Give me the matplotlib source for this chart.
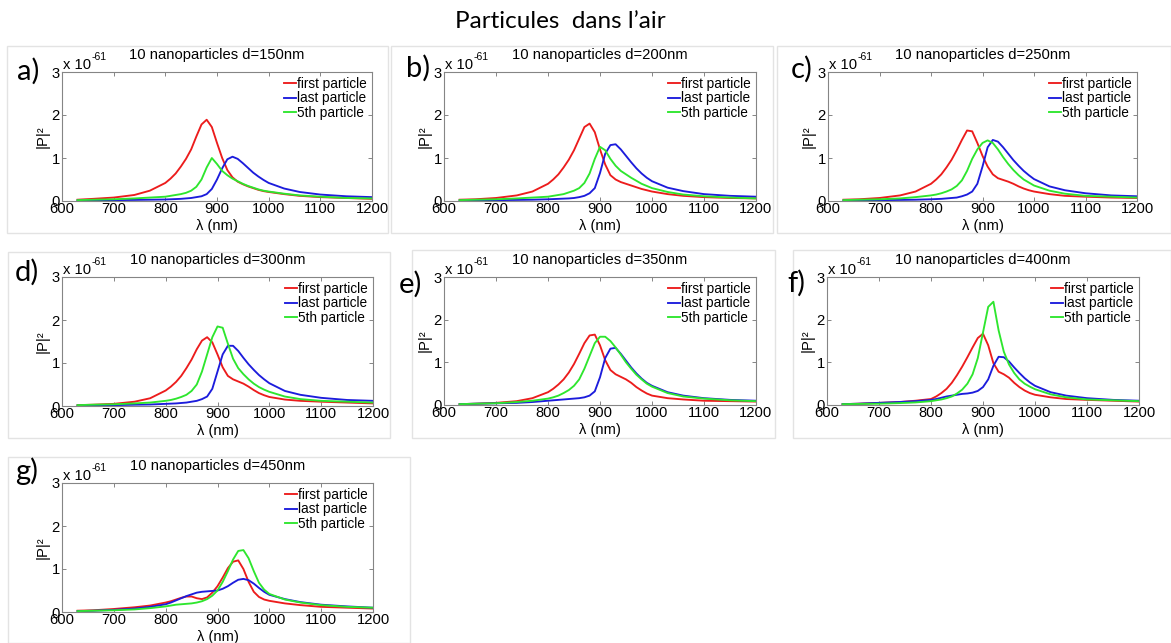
import matplotlib
matplotlib.use("Agg")
import matplotlib.pyplot as plt
from matplotlib.patches import Rectangle

# ---------------- data (|P|^2 in units of 1e-61) ----------------
wavelength = [630, 660, 700, 740, 770, 800, 810, 820, 830, 840, 850, 860, 870, 880, 890,
              900, 910, 920, 930, 940, 950, 960, 970, 980, 990, 1000, 1030, 1060, 1100, 1150, 1200]

first_150 = [0.03, 0.05, 0.08, 0.14, 0.24, 0.42, 0.52, 0.64, 0.80, 0.98, 1.20, 1.50, 1.78, 1.89, 1.72,
             1.35, 1.00, 0.72, 0.55, 0.45, 0.39, 0.34, 0.30, 0.26, 0.23, 0.21, 0.16, 0.12, 0.09, 0.07, 0.05]
last_150 = [0.01, 0.015, 0.02, 0.025, 0.03, 0.035, 0.04, 0.045, 0.05, 0.06, 0.07, 0.09, 0.11, 0.16, 0.28,
            0.50, 0.76, 0.97, 1.03, 0.98, 0.88, 0.77, 0.66, 0.57, 0.49, 0.42, 0.29, 0.21, 0.15, 0.11, 0.09]
fifth_150 = [0.02, 0.03, 0.04, 0.06, 0.08, 0.10, 0.12, 0.14, 0.16, 0.19, 0.24, 0.33, 0.50, 0.78, 1.00,
             0.86, 0.70, 0.60, 0.52, 0.46, 0.40, 0.35, 0.31, 0.27, 0.24, 0.22, 0.17, 0.13, 0.10, 0.07, 0.06]

first_200 = [0.03, 0.04, 0.07, 0.13, 0.22, 0.40, 0.50, 0.62, 0.78, 0.96, 1.18, 1.45, 1.72, 1.80, 1.60,
             1.20, 0.85, 0.60, 0.50, 0.44, 0.40, 0.36, 0.32, 0.28, 0.25, 0.22, 0.16, 0.12, 0.09, 0.07, 0.06]
last_200 = [0.01, 0.015, 0.02, 0.025, 0.03, 0.04, 0.045, 0.05, 0.055, 0.06, 0.07, 0.09, 0.12, 0.18, 0.30,
            0.65, 1.10, 1.30, 1.32, 1.20, 1.05, 0.90, 0.76, 0.64, 0.54, 0.46, 0.31, 0.23, 0.16, 0.12, 0.10]
fifth_200 = [0.02, 0.03, 0.04, 0.06, 0.08, 0.10, 0.12, 0.14, 0.16, 0.20, 0.24, 0.30, 0.42, 0.64, 0.98,
             1.26, 1.18, 0.98, 0.82, 0.70, 0.62, 0.54, 0.47, 0.40, 0.35, 0.30, 0.21, 0.15, 0.11, 0.08, 0.06]

first_250 = [0.03, 0.04, 0.07, 0.13, 0.22, 0.40, 0.50, 0.62, 0.78, 0.96, 1.18, 1.42, 1.64, 1.62, 1.35,
             1.05, 0.80, 0.62, 0.53, 0.49, 0.45, 0.40, 0.34, 0.29, 0.25, 0.22, 0.16, 0.12, 0.10, 0.08, 0.07]
last_250 = [0.01, 0.015, 0.02, 0.025, 0.03, 0.04, 0.045, 0.05, 0.06, 0.07, 0.08, 0.11, 0.15, 0.22, 0.40,
            0.80, 1.25, 1.42, 1.38, 1.25, 1.10, 0.95, 0.82, 0.70, 0.60, 0.51, 0.34, 0.25, 0.18, 0.13, 0.11]
fifth_250 = [0.02, 0.03, 0.04, 0.06, 0.09, 0.13, 0.15, 0.18, 0.22, 0.27, 0.35, 0.48, 0.70, 0.98, 1.20,
             1.35, 1.41, 1.35, 1.20, 1.02, 0.86, 0.72, 0.60, 0.50, 0.43, 0.36, 0.24, 0.17, 0.12, 0.10, 0.08]

first_300 = [0.02, 0.03, 0.05, 0.10, 0.18, 0.36, 0.45, 0.56, 0.70, 0.88, 1.08, 1.32, 1.52, 1.60, 1.48,
             1.20, 0.90, 0.70, 0.62, 0.57, 0.52, 0.45, 0.37, 0.30, 0.25, 0.21, 0.15, 0.12, 0.10, 0.08, 0.06]
last_300 = [0.01, 0.015, 0.02, 0.03, 0.035, 0.05, 0.055, 0.06, 0.07, 0.08, 0.10, 0.12, 0.16, 0.22, 0.40,
            0.80, 1.20, 1.40, 1.40, 1.28, 1.12, 0.97, 0.84, 0.72, 0.62, 0.53, 0.35, 0.26, 0.19, 0.14, 0.12]
fifth_300 = [0.02, 0.03, 0.04, 0.06, 0.08, 0.12, 0.14, 0.17, 0.21, 0.26, 0.35, 0.50, 0.80, 1.20, 1.60,
             1.85, 1.82, 1.45, 1.10, 0.88, 0.74, 0.62, 0.52, 0.44, 0.38, 0.33, 0.22, 0.16, 0.12, 0.10, 0.08]

first_350 = [0.02, 0.03, 0.05, 0.09, 0.16, 0.30, 0.38, 0.48, 0.60, 0.76, 0.96, 1.20, 1.45, 1.63, 1.65,
             1.40, 1.05, 0.82, 0.72, 0.66, 0.60, 0.52, 0.42, 0.34, 0.27, 0.22, 0.16, 0.13, 0.10, 0.09, 0.08]
last_350 = [0.02, 0.03, 0.04, 0.05, 0.07, 0.10, 0.11, 0.12, 0.13, 0.14, 0.15, 0.16, 0.18, 0.22, 0.32,
            0.65, 1.10, 1.32, 1.34, 1.20, 1.04, 0.88, 0.74, 0.62, 0.52, 0.45, 0.30, 0.22, 0.16, 0.12, 0.10]
fifth_350 = [0.02, 0.03, 0.04, 0.07, 0.10, 0.15, 0.18, 0.22, 0.28, 0.35, 0.45, 0.60, 0.85, 1.15, 1.45,
             1.60, 1.60, 1.50, 1.35, 1.18, 1.00, 0.85, 0.71, 0.60, 0.50, 0.43, 0.28, 0.20, 0.15, 0.11, 0.09]

first_400 = [0.02, 0.03, 0.05, 0.07, 0.10, 0.14, 0.20, 0.28, 0.38, 0.52, 0.70, 0.90, 1.12, 1.35, 1.57,
             1.67, 1.40, 0.98, 0.78, 0.72, 0.64, 0.52, 0.42, 0.34, 0.28, 0.24, 0.18, 0.14, 0.12, 0.10, 0.08]
last_400 = [0.02, 0.03, 0.05, 0.07, 0.09, 0.12, 0.14, 0.17, 0.20, 0.22, 0.24, 0.26, 0.27, 0.29, 0.33,
            0.42, 0.60, 0.92, 1.13, 1.12, 1.02, 0.88, 0.75, 0.63, 0.53, 0.45, 0.30, 0.22, 0.16, 0.12, 0.10]
fifth_400 = [0.02, 0.025, 0.03, 0.045, 0.06, 0.09, 0.11, 0.13, 0.16, 0.20, 0.27, 0.36, 0.50, 0.72, 1.10,
             1.70, 2.30, 2.42, 1.75, 1.25, 0.95, 0.75, 0.60, 0.50, 0.43, 0.37, 0.25, 0.18, 0.13, 0.11, 0.09]

first_450 = [0.03, 0.04, 0.07, 0.11, 0.15, 0.22, 0.25, 0.29, 0.33, 0.36, 0.36, 0.32, 0.30, 0.34, 0.45,
             0.60, 0.80, 1.02, 1.17, 1.20, 1.00, 0.70, 0.47, 0.35, 0.29, 0.26, 0.20, 0.16, 0.12, 0.10, 0.08]
last_450 = [0.02, 0.03, 0.05, 0.08, 0.12, 0.18, 0.22, 0.27, 0.32, 0.37, 0.41, 0.45, 0.47, 0.48, 0.49,
            0.50, 0.54, 0.60, 0.68, 0.75, 0.77, 0.74, 0.66, 0.56, 0.47, 0.40, 0.30, 0.23, 0.17, 0.13, 0.10]
fifth_450 = [0.02, 0.03, 0.04, 0.06, 0.09, 0.13, 0.15, 0.17, 0.18, 0.19, 0.20, 0.22, 0.25, 0.30, 0.38,
             0.50, 0.70, 0.95, 1.22, 1.42, 1.44, 1.25, 0.95, 0.68, 0.52, 0.42, 0.29, 0.22, 0.16, 0.12, 0.10]

panel_letters = ["a)", "b)", "c)", "d)", "e)", "f)", "g)"]
spacings = [150, 200, 250, 300, 350, 400, 450]
first_series = [first_150, first_200, first_250, first_300, first_350, first_400, first_450]
last_series = [last_150, last_200, last_250, last_300, last_350, last_400, last_450]
fifth_series = [fifth_150, fifth_200, fifth_250, fifth_300, fifth_350, fifth_400, fifth_450]
series_names = ["first particle", "last particle", "5th particle"]
x_ticks = [600, 700, 800, 900, 1000, 1100, 1200]
y_ticks = [0, 1, 2, 3]

# ---------------- layout ----------------
W, H = 1171, 643
fig = plt.figure(figsize=(W / 100, H / 100), dpi=100)
fig.patch.set_facecolor("white")

AX_FONT = "Liberation Sans"
BIG_FONT = "Lato"
FS = 10.6
LEG_FS = 9.8

# axes boxes in pixels: left, top, right, bottom
boxes = [(62, 72, 372, 201), (444, 72, 756, 201), (828, 72, 1137, 201),
         (62, 277, 373, 406), (444, 277, 756, 405), (827, 277, 1139, 405),
         (62, 483, 373, 612)]
label_pos = [(17, 71), (406, 68), (791, 69), (15, 272), (399, 284), (787, 283), (15, 471)]
frames = [(7, 46, 388, 233), (391, 46, 773, 233), (777, 46, 1171, 233),
          (8, 252, 390, 438), (412, 250, 775, 438), (793, 250, 1171, 438),
          (8, 457, 410, 643)]

for (l, t, r, b) in frames:
    fig.patches.append(Rectangle((l / W, 1 - b / H), (r - l) / W, (b - t) / H,
                                 transform=fig.transFigure, fill=False,
                                 edgecolor="#e3e3e3", linewidth=1.0, zorder=0))

colors = ["#ec1c1c", "#1c1cdc", "#2ee62e"]
gray = "#858585"

for i, (l, t, r, b) in enumerate(boxes):
    ax = fig.add_axes([l / W, 1 - b / H, (r - l) / W, (b - t) / H])
    ax.set_facecolor("none")
    for ys, c, name in zip([first_series[i], last_series[i], fifth_series[i]], colors, series_names):
        ax.plot(wavelength, ys, color=c, lw=1.35, label=name)
    ax.set_xlim(600, 1200)
    ax.set_ylim(0, 3)
    ax.set_xticks(x_ticks)
    ax.set_yticks(y_ticks)
    ax.set_xticklabels([str(v) for v in x_ticks], fontfamily=AX_FONT, fontsize=FS)
    ax.set_yticklabels([str(v) for v in y_ticks], fontfamily=AX_FONT, fontsize=FS)
    ax.tick_params(direction="in", top=True, right=True, length=3, width=0.7,
                   color=gray, labelcolor="black")
    ax.tick_params(axis="x", pad=1.0)
    ax.tick_params(axis="y", pad=1.5)
    for s in ax.spines.values():
        s.set_color(gray)
        s.set_linewidth(0.8)
    hpx = b - t
    wpx = r - l
    ax.text(0.5, 1 + 17 / hpx, f"10 nanoparticles d={spacings[i]}nm", transform=ax.transAxes,
            ha="center", va="center", fontfamily=AX_FONT, fontsize=FS)
    ax.text(1 / wpx, 1 + 0 / hpx, "x 10", transform=ax.transAxes, ha="left", va="bottom",
            fontfamily=AX_FONT, fontsize=FS)
    ax.text(30 / wpx, 1 + 10 / hpx, "-61", transform=ax.transAxes, ha="left", va="bottom",
            fontfamily=AX_FONT, fontsize=7.5)
    ax.text(-19 / wpx, 0.5, "|P|²", transform=ax.transAxes, rotation=90, ha="center", va="center",
            fontfamily=AX_FONT, fontsize=FS)
    ax.text(0.5, -25 / hpx, "λ (nm)", transform=ax.transAxes, ha="center", va="center",
            fontfamily=AX_FONT, fontsize=FS)
    ax.legend(loc="upper right", bbox_to_anchor=(1.0, 1.0), frameon=False,
              handlelength=0.9, handletextpad=0.1, labelspacing=0.05,
              borderaxespad=0.1, borderpad=0.25,
              prop={"family": AX_FONT, "size": LEG_FS})
    lx, ly = label_pos[i]
    fig.text(lx / W, 1 - ly / H, panel_letters[i], ha="left", va="center",
             fontfamily=BIG_FONT, fontsize=21)

fig.text(560 / W, 1 - 21 / H, "Particules  dans l\u2019air", ha="center", va="center",
         fontfamily=BIG_FONT, fontsize=17.5)

fig.savefig("out.png", dpi=100)
